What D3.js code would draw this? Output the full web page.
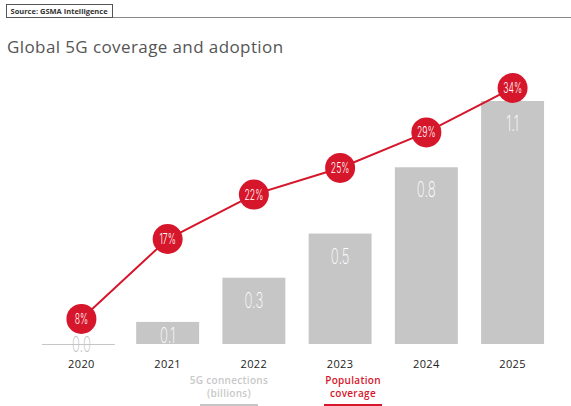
<!DOCTYPE html>
<html>
<head>
<meta charset="utf-8">
<script src="https://cdn.jsdelivr.net/npm/d3@7"></script>
<style>
  body { margin: 0; background: #fff; }
  svg { display: block; }
</style>
</head>
<body>
<svg id="chart" width="571" height="406"></svg>
<script>
var years = ["2020", "2021", "2022", "2023", "2024", "2025"]
var connections = [0.0, 0.1, 0.3, 0.5, 0.8, 1.1]
var connectionLabels = ["0.0", "0.1", "0.3", "0.5", "0.8", "1.1"]
var coverage = [8, 17, 22, 25, 29, 34]

var red = "#d6162b"
var grey = "#c6c6c6"
var thin = "Inter, Roboto, 'Open Sans', sans-serif"

var svg = d3.select("#chart")

// source box + rule
svg.append("line")
   .attr("x1", 6).attr("x2", 571).attr("y1", 17.5).attr("y2", 17.5)
   .attr("stroke", "#888").attr("stroke-width", 1)
svg.append("rect")
   .attr("x", 6.5).attr("y", 4.5).attr("width", 106).attr("height", 13)
   .attr("fill", "#fff").attr("stroke", "#555").attr("stroke-width", 1)
svg.append("text")
   .attr("x", 10.5).attr("y", 14)
   .attr("font-family", "'Open Sans', sans-serif").attr("font-size", 7.5)
   .attr("font-weight", "bold").attr("fill", "#333")
   .text("Source: GSMA Intelligence")

svg.append("text")
   .attr("x", 7).attr("y", 53)
   .attr("font-family", "'Open Sans', sans-serif").attr("font-size", 17)
   .attr("letter-spacing", 0.4)
   .attr("fill", "#555")
   .text("Global 5G coverage and adoption")

var x = d3.scaleBand().domain(years).range([37, 557]).paddingInner(0.27).paddingOuter(0.15)
var yBar = d3.scaleLinear().domain([0, 1.1]).range([344, 101])
var yLine = d3.scaleLinear().domain([0, 34]).range([390, 88])

function squeeze(cx, k) {
  return "translate(" + cx + ",0) scale(" + k + ",1) translate(" + (-cx) + ",0)"
}

// bars
svg.selectAll("rect.bar")
   .data(years)
   .enter()
   .append("rect")
   .attr("class", "bar")
   .attr("x", function(d) { return x(d) })
   .attr("width", x.bandwidth())
   .attr("y", function(d, i) { return yBar(connections[i]) })
   .attr("height", function(d, i) { return yBar(0) - yBar(connections[i]) })
   .attr("fill", grey)

// zero bar shown as a thin rule
svg.append("line")
   .attr("x1", x(years[0]) - 8).attr("x2", x(years[0]) + x.bandwidth() + 2)
   .attr("y1", yBar(0) + 0.5).attr("y2", yBar(0) + 0.5)
   .attr("stroke", grey).attr("stroke-width", 1)

svg.selectAll("text.val")
   .data(years)
   .enter()
   .append("text")
   .attr("class", "val")
   .attr("x", function(d) { return x(d) + x.bandwidth() / 2 })
   .attr("y", function(d, i) {
     if (connections[i] === 0) return yBar(0) + 8
     return Math.min(yBar(connections[i]) + 30, yBar(0) - 1)
   })
   .attr("text-anchor", "middle")
   .attr("font-family", thin).attr("font-size", 22).attr("font-weight", 200)
   .attr("fill", function(d, i) { return connections[i] === 0 ? "#bdbdbd" : "#fff" })
   .attr("transform", function(d) { return squeeze(x(d) + x.bandwidth() / 2, 0.6) })
   .text(function(d, i) { return connectionLabels[i] })

// year labels
svg.selectAll("text.year")
   .data(years)
   .enter()
   .append("text")
   .attr("class", "year")
   .attr("x", function(d) { return x(d) + x.bandwidth() / 2 })
   .attr("y", 368)
   .attr("text-anchor", "middle")
   .attr("font-family", "'Open Sans', sans-serif").attr("font-size", 11)
   .attr("letter-spacing", 0.4)
   .attr("fill", "#222")
   .text(function(d) { return d })

// coverage line
var line = d3.line()
   .x(function(d, i) { return x(years[i]) + x.bandwidth() / 2 })
   .y(function(d) { return yLine(d) })

svg.append("path")
   .datum(coverage)
   .attr("d", line)
   .attr("fill", "none")
   .attr("stroke", red)
   .attr("stroke-width", 2)

var dots = svg.selectAll("g.dot")
   .data(coverage)
   .enter()
   .append("g")
   .attr("class", "dot")
   .attr("transform", function(d, i) { return "translate(" + (x(years[i]) + x.bandwidth() / 2) + "," + yLine(d) + ")" })

dots.append("circle")
   .attr("r", 15)
   .attr("fill", red)

dots.append("text")
   .attr("y", 5)
   .attr("text-anchor", "middle")
   .attr("font-family", thin).attr("font-size", 14).attr("font-weight", 300)
   .attr("fill", "#fff")
   .attr("transform", "scale(0.62,1)")
   .text(function(d) { return d + "%" })

// legend
var legend = [
  { lines: ["5G connections", "(billions)"], color: "#c8c8c8", cx: 229, under: "#c6c6c6" },
  { lines: ["Population", "coverage"], color: red, cx: 353, under: red }
]

legend.forEach(function(l) {
  l.lines.forEach(function(t, j) {
    svg.append("text")
       .attr("x", l.cx).attr("y", 384 + j * 13)
       .attr("text-anchor", "middle")
       .attr("font-family", "'Open Sans', sans-serif").attr("font-size", 10)
       .attr("font-weight", "600")
       .attr("letter-spacing", 0.3)
       .attr("fill", l.color)
       .text(t)
  })
  svg.append("rect")
     .attr("x", l.cx - 29).attr("y", 404).attr("width", 58).attr("height", 3)
     .attr("fill", l.under)
})
</script>
</body>
</html>
